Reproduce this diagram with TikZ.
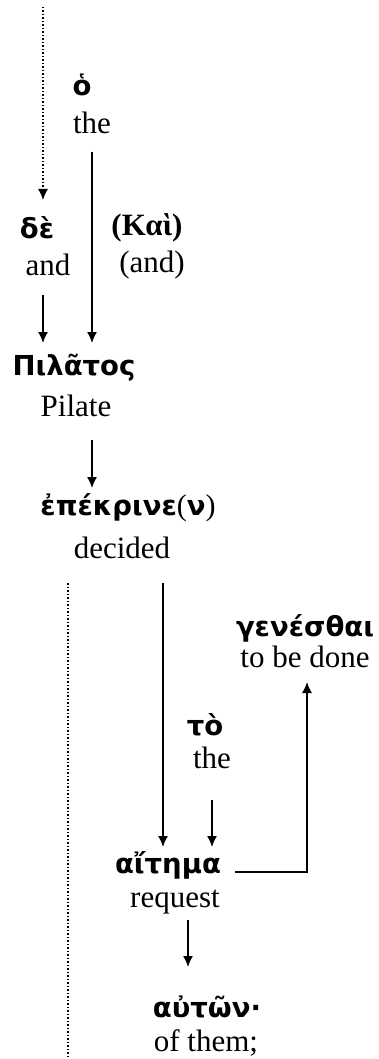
\documentclass[tikz,border=0pt]{standalone}
\usepackage{fontspec}
\setmainfont{Liberation Serif}
\newfontfamily\grk{DejaVu Sans}
\usetikzlibrary{arrows.meta}
\tikzset{
  en/.style={inner sep=0pt, font=\fontsize{31}{36}\selectfont},
  gr/.style={inner sep=0pt, font=\grk\bfseries\fontsize{27.5}{32}\selectfont},
  arr/.style={line width=1.5pt, -{Latex[length=11pt,width=10pt]}},
  dotarr/.style={line width=1.5pt, dotted, -{Latex[length=11pt,width=10pt]}},
  ln/.style={line width=1.5pt},
  dotln/.style={line width=1.5pt, dotted}
}
\newcommand{\rpar}[1]{{\rmfamily\mdseries\fontsize{30}{36}\selectfont #1}}
\begin{document}
\begin{tikzpicture}[x=1pt,y=1pt]
\useasboundingbox (0,0) rectangle (378,-1059);
% words
\node[gr] (ho) at (82,-85) {ὁ};
\node[en] (the1) at (92,-123) {the};
\node[gr] (de) at (37,-228) {δὲ};
\node[en] (and1) at (48,-265) {and};
\node[inner sep=0pt, font=\bfseries\fontsize{31}{36}\selectfont] (kai) at (147,-228) {(Καὶ)};
\node[en] (and2) at (152,-265) {(and)};
\node[gr] (pil) at (74,-368) {Πιλᾶτος};
\node[en] (pilate) at (76,-406) {Pilate};
\node[gr] (epek) at (128,-508) {ἐπέκρινε\rpar{(}ν\rpar{)}};
\node[en] (decided) at (122,-548) {decided};
\node[gr] (gen) at (305,-628) {γενέσθαι};
\node[en] (tobe) at (305,-657) {to be done};
\node[gr] (to) at (205,-725) {τὸ};
\node[en] (the2) at (212,-758) {the};
\node[gr] (ait) at (168,-865) {αἴτημα};
\node[en] (req) at (175,-902) {request};
\node[gr] (aut) at (207,-1007) {αὐτῶν·};
\node[en] (ofthem) at (206,-1043) {of them;};
% connector ends
\coordinate (top) at (43,-7);
\coordinate (deTop) at (43,-200);
\coordinate (hoFrom) at (92,-152);
\coordinate (hoTo) at (92,-343);
\coordinate (deFrom) at (43,-295);
\coordinate (deTo) at (43,-343);
\coordinate (pilFrom) at (92,-440);
\coordinate (pilTo) at (92,-488);
\coordinate (dotTop) at (68,-583);
\coordinate (dotBot) at (68,-1059);
\coordinate (epFrom) at (163,-583);
\coordinate (epTo) at (163,-847);
\coordinate (toFrom) at (212,-800);
\coordinate (toTo) at (212,-847);
\coordinate (aitR) at (235,-872);
\coordinate (corner) at (307,-872);
\coordinate (genTo) at (307,-682);
\coordinate (reqFrom) at (188,-920);
\coordinate (reqTo) at (188,-967);
% connectors
\draw[dotarr] (top) -- (deTop);
\draw[arr] (hoFrom) -- (hoTo);
\draw[arr] (deFrom) -- (deTo);
\draw[arr] (pilFrom) -- (pilTo);
\draw[dotln] (dotTop) -- (dotBot);
\draw[arr] (epFrom) -- (epTo);
\draw[arr] (toFrom) -- (toTo);
\draw[arr] (aitR) -- (corner) -- (genTo);
\draw[arr] (reqFrom) -- (reqTo);
\end{tikzpicture}
\end{document}
